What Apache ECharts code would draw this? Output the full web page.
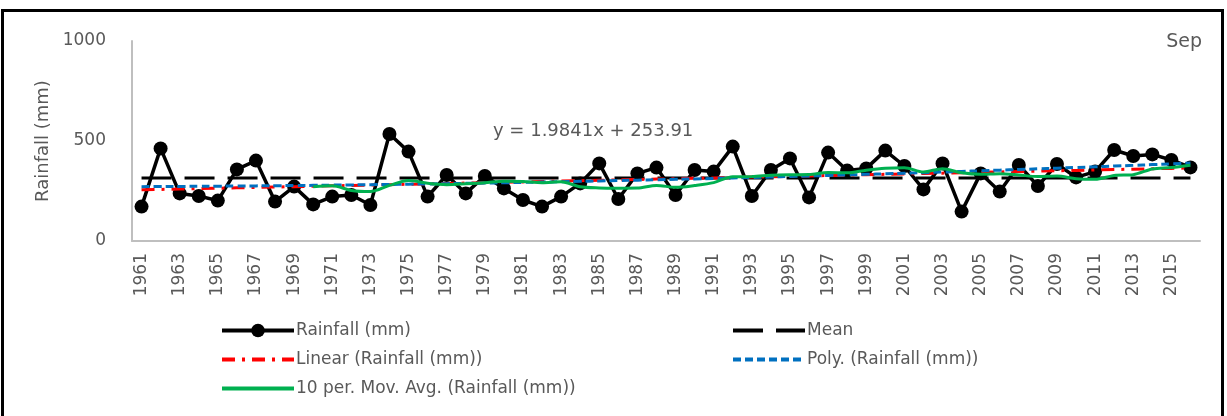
<!DOCTYPE html>
<html>
<head>
<meta charset="utf-8">
<script src="https://cdn.jsdelivr.net/npm/echarts@6/dist/echarts.min.js"></script>
<style>
  html, body { margin: 0; padding: 0; background: #ffffff; }
  #chart { width: 1227px; height: 416px; }
</style>
</head>
<body>
<div id="chart"></div>
<script>
// September rainfall, 1961-2016
const years = ['1961','1962','1963','1964','1965','1966','1967','1968','1969','1970',
  '1971','1972','1973','1974','1975','1976','1977','1978','1979','1980',
  '1981','1982','1983','1984','1985','1986','1987','1988','1989','1990',
  '1991','1992','1993','1994','1995','1996','1997','1998','1999','2000',
  '2001','2002','2003','2004','2005','2006','2007','2008','2009','2010',
  '2011','2012','2013','2014','2015','2016'];
const rainfall = [172, 463, 238, 225, 202, 358, 402, 197, 272, 183,
  222, 230, 180, 535, 447, 222, 330, 238, 325, 263,
  205, 172, 222, 288, 388, 210, 338, 367, 230, 355,
  347, 472, 225, 355, 413, 218, 442, 352, 363, 452,
  375, 258, 388, 147, 338, 247, 380, 275, 385, 318,
  347, 455, 425, 433, 405, 368];
// Linear trend as printed on the chart: y = 1.9841x + 253.91 (x = 1, 2, ...)
const trendSlope = 1.9841;
const trendIntercept = 253.91;
const movingAvgPeriod = 10;
const yTicks = [0, 500, 1000];

const n = rainfall.length;
const xs = rainfall.map((_, i) => i + 1);

// Long-term mean
const meanValue = rainfall.reduce((a, b) => a + b, 0) / n;
const meanSeries = rainfall.map(() => meanValue);

// Linear trend
const linearSeries = xs.map(x => trendSlope * x + trendIntercept);

// 2nd-order polynomial least-squares fit
function polyFit2(x, y) {
  let s0 = 0, s1 = 0, s2 = 0, s3 = 0, s4 = 0, t0 = 0, t1 = 0, t2 = 0;
  for (let i = 0; i < x.length; i++) {
    const a = x[i], b = y[i];
    s0 += 1; s1 += a; s2 += a * a; s3 += a * a * a; s4 += a * a * a * a;
    t0 += b; t1 += a * b; t2 += a * a * b;
  }
  const M = [[s0, s1, s2, t0], [s1, s2, s3, t1], [s2, s3, s4, t2]];
  for (let c = 0; c < 3; c++) {
    for (let r = c + 1; r < 3; r++) {
      const f = M[r][c] / M[c][c];
      for (let k = c; k < 4; k++) M[r][k] -= f * M[c][k];
    }
  }
  const coef = [0, 0, 0];
  for (let r = 2; r >= 0; r--) {
    let s = M[r][3];
    for (let k = r + 1; k < 3; k++) s -= M[r][k] * coef[k];
    coef[r] = s / M[r][r];
  }
  return coef;
}
const pc = polyFit2(xs, rainfall);
const polySeries = xs.map(x => pc[0] + pc[1] * x + pc[2] * x * x);

// Trailing moving average
const movAvgSeries = rainfall.map((_, i) => {
  if (i < movingAvgPeriod - 1) return null;
  let s = 0;
  for (let k = i - movingAvgPeriod + 1; k <= i; k++) s += rainfall[k];
  return s / movingAvgPeriod;
});

const textColor = '#595959';
const font = 'DejaVu Sans';
const legendText = { color: textColor, fontSize: 17, fontFamily: font, padding: [0, 0, 0, -3] };
const noMarker = { opacity: 0 };

const chart = echarts.init(document.getElementById('chart'), null, { renderer: 'canvas' });
chart.setOption({
  animation: false,
  backgroundColor: '#ffffff',
  textStyle: { fontFamily: font },
  title: {
    text: 'Sep',
    right: 20,
    top: 28,
    textStyle: { color: textColor, fontSize: 19, fontWeight: 'normal', fontFamily: font }
  },
  grid: { left: 132, right: 27, top: 41, bottom: 175 },
  xAxis: {
    type: 'category',
    data: years,
    boundaryGap: true,
    axisLine: { lineStyle: { color: '#bfbfbf', width: 2 } },
    axisTick: { show: false },
    axisLabel: {
      interval: 1,
      rotate: 90,
      color: textColor,
      fontSize: 17,
      fontFamily: font,
      margin: 12
    },
    splitLine: { show: false }
  },
  yAxis: {
    type: 'value',
    min: yTicks[0],
    max: yTicks[yTicks.length - 1],
    interval: yTicks[1] - yTicks[0],
    name: 'Rainfall (mm)',
    nameLocation: 'middle',
    nameGap: 70,
    nameTextStyle: { color: textColor, fontSize: 18, fontFamily: font },
    axisLine: { show: true, lineStyle: { color: '#bfbfbf', width: 2 } },
    axisTick: { show: false },
    axisLabel: {
      color: textColor, fontSize: 17, fontFamily: font, margin: 26,
      formatter: v => String(v)
    },
    splitLine: { show: false }
  },
  legend: [
    {
      orient: 'vertical',
      left: 215,
      top: 317,
      itemWidth: 72,
      itemHeight: 17,
      itemGap: 12,
      lineStyle: { width: 4 },
      textStyle: legendText,
      data: [
        { name: 'Rainfall (mm)' },
        { name: 'Linear (Rainfall (mm))', itemStyle: noMarker },
        { name: '10 per. Mov. Avg. (Rainfall (mm))', itemStyle: noMarker }
      ]
    },
    {
      orient: 'vertical',
      left: 726,
      top: 317,
      itemWidth: 72,
      itemHeight: 17,
      itemGap: 12,
      lineStyle: { width: 4 },
      textStyle: legendText,
      data: [
        { name: 'Mean', itemStyle: noMarker },
        { name: 'Poly. (Rainfall (mm))', itemStyle: noMarker }
      ]
    }
  ],
  graphic: [
    {
      type: 'text',
      left: 493,
      top: 122,
      style: { text: 'y = 1.9841x + 253.91', fill: textColor, font: '18px "DejaVu Sans"' }
    },
    {
      type: 'rect',
      shape: { x: 2.5, y: 10.5, width: 1220, height: 420 },
      style: { fill: null, stroke: '#000000', lineWidth: 3 },
      silent: true
    }
  ],
  series: [
    {
      name: 'Rainfall (mm)',
      type: 'line',
      data: rainfall,
      symbol: 'circle',
      symbolSize: 14,
      showAllSymbol: true,
      lineStyle: { color: '#000000', width: 3.5 },
      itemStyle: { color: '#000000' },
      z: 2
    },
    {
      name: 'Mean',
      type: 'line',
      data: meanSeries,
      symbol: 'none',
      lineStyle: { color: '#000000', width: 3, type: [30, 13] },
      itemStyle: { color: '#000000' },
      z: 3
    },
    {
      name: 'Linear (Rainfall (mm))',
      type: 'line',
      data: linearSeries,
      symbol: 'none',
      lineStyle: { color: '#ff0000', width: 3, type: [13, 7, 3, 7] },
      itemStyle: { color: '#ff0000' },
      z: 4
    },
    {
      name: 'Poly. (Rainfall (mm))',
      type: 'line',
      data: polySeries,
      symbol: 'none',
      smooth: true,
      lineStyle: { color: '#0070c0', width: 3, type: [8, 4] },
      itemStyle: { color: '#0070c0' },
      z: 5
    },
    {
      name: '10 per. Mov. Avg. (Rainfall (mm))',
      type: 'line',
      data: movAvgSeries,
      symbol: 'none',
      smooth: 0.3,
      lineStyle: { color: '#00b050', width: 3 },
      itemStyle: { color: '#00b050' },
      z: 6
    }
  ]
});
</script>
</body>
</html>
